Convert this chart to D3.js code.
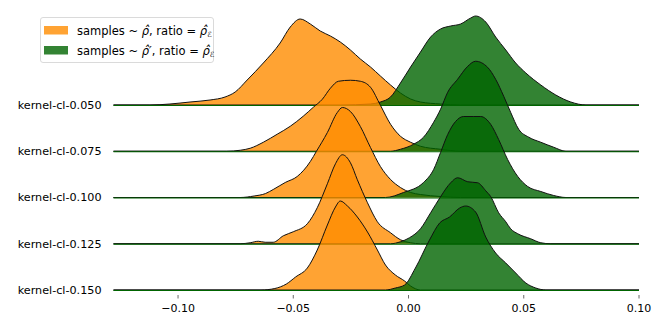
<!DOCTYPE html>
<html><head><meta charset="utf-8">
<script src="https://cdn.jsdelivr.net/npm/d3@7/dist/d3.min.js"></script>
<style>html,body{margin:0;padding:0;background:#fff;}svg{display:block;font-family:"DejaVu Sans",sans-serif;}</style>
</head><body>
<svg id="c" width="664" height="332"></svg>
<script>
// ---- data (x in data units, density in relative units) ----
const rowLabels = ["kernel-cl-0.050","kernel-cl-0.075","kernel-cl-0.100","kernel-cl-0.125","kernel-cl-0.150"];
const xTicks = [-0.10,-0.05,0.00,0.05,0.10];
const seriesNames = ["samples ~ \u03C1\u0302, ratio = \u03C1\u0302\u2130","samples ~ \u03C1\u0302\u2032, ratio = \u03C1\u0302\u2130"];

const orange050 = [[-0.1122,0],[-0.1035,1],[-0.0948,3],[-0.0861,5],[-0.0796,8],[-0.0752,13],[-0.0700,25],[-0.0630,42],[-0.0557,62],[-0.0513,78],[-0.0470,86],[-0.0426,81],[-0.0383,74],[-0.0339,69],[-0.0296,63],[-0.0252,55],[-0.0209,46],[-0.0165,38],[-0.0122,29],[-0.0078,20],[-0.0035,12],[0.0009,6],[0.0052,3],[0.0139,1],[0.0226,0]];
const green050  = [[-0.0296,0],[-0.0165,1],[-0.0122,3],[-0.0078,8],[-0.0035,22],[0.0009,38],[0.0052,53],[0.0096,68],[0.0139,76],[0.0183,79],[0.0226,81],[0.0270,87],[0.0291,89],[0.0335,83],[0.0378,68],[0.0422,55],[0.0465,42],[0.0509,32],[0.0574,20],[0.0639,10],[0.0704,3],[0.0770,0]];
const orange075 = [[-0.0790,0],[-0.0730,1],[-0.0687,3],[-0.0630,9],[-0.0570,17],[-0.0513,25],[-0.0457,35],[-0.0413,44],[-0.0374,52],[-0.0339,63],[-0.0304,70],[-0.0252,71],[-0.0209,70],[-0.0165,64],[-0.0122,46],[-0.0078,27],[-0.0035,15],[0.0009,9],[0.0052,5],[0.0139,2],[0.0226,0]];
const green075  = [[-0.0078,0],[-0.0035,2],[0.0022,7],[0.0065,14],[0.0109,29],[0.0139,42],[0.0170,59],[0.0213,72],[0.0257,85],[0.0291,90],[0.0343,84],[0.0378,72],[0.0413,55],[0.0443,39],[0.0478,22],[0.0522,14],[0.0574,9],[0.0630,4],[0.0683,0]];
const orange100 = [[-0.0730,0],[-0.0670,1.5],[-0.0620,4],[-0.0587,8],[-0.0535,15],[-0.0483,21],[-0.0426,36],[-0.0400,46],[-0.0352,65],[-0.0309,85],[-0.0287,90],[-0.0252,86],[-0.0209,71],[-0.0165,50],[-0.0122,31],[-0.0078,18],[-0.0035,10],[0.0009,5],[0.0052,3],[0.0139,1],[0.0226,0]];
const green100  = [[-0.0100,0],[-0.0022,5],[0.0065,15],[0.0109,28],[0.0139,45],[0.0170,63],[0.0204,76],[0.0239,81],[0.0283,81],[0.0313,81],[0.0357,73],[0.0391,58],[0.0430,38],[0.0474,21],[0.0517,11],[0.0574,6],[0.0630,2],[0.0683,0]];
const orange125 = [[-0.0730,0],[-0.0687,1],[-0.0652,2.5],[-0.0622,1.5],[-0.0587,1.5],[-0.0543,8],[-0.0500,12],[-0.0439,20],[-0.0396,36],[-0.0352,60],[-0.0317,80],[-0.0287,89],[-0.0252,81],[-0.0222,64],[-0.0178,41],[-0.0135,22],[-0.0078,11],[-0.0035,4],[0.0009,1],[0.0052,0]];
const green125  = [[-0.0078,0],[-0.0035,2],[0.0004,6],[0.0052,15],[0.0096,31],[0.0139,47],[0.0183,61],[0.0213,66],[0.0257,62],[0.0300,61],[0.0335,53],[0.0357,47],[0.0391,31],[0.0422,22],[0.0443,15],[0.0474,10],[0.0530,5],[0.0574,1],[0.0617,0]];
const orange150 = [[-0.0640,0],[-0.0580,1.5],[-0.0530,6],[-0.0490,13],[-0.0439,22],[-0.0396,40],[-0.0352,65],[-0.0317,83],[-0.0296,89],[-0.0265,84],[-0.0222,73],[-0.0178,58],[-0.0135,40],[-0.0100,25],[-0.0057,15],[-0.0017,9],[0.0009,4],[0.0052,0]];
const green150  = [[-0.0100,0],[-0.0057,2],[-0.0017,5],[0.0030,22],[0.0091,50],[0.0135,67],[0.0178,73],[0.0222,82],[0.0248,84],[0.0291,78],[0.0335,53],[0.0378,37],[0.0422,27],[0.0465,17],[0.0509,7],[0.0552,2],[0.0596,0]];

const orangeRows = [orange050, orange075, orange100, orange125, orange150];
const greenRows  = [green050, green075, green100, green125, green150];

// ---- drawing ----
const svg = d3.select("#c");
const xDomain = [-0.128, 0.10];
const x = d3.scaleLinear().domain(xDomain).range([113.5, 639]);
const row = d3.scalePoint().domain(rowLabels).range([105, 290]);
const h = d3.scaleLinear().domain([0, 100]).range([0, 100]);

const colOrange = "darkorange", colGreen = "darkgreen";

function pad(pts){ return [[xDomain[0],0], ...pts, [xDomain[1],0]]; }

rowLabels.forEach((lab, i) => {
  const base = row(lab);
  const g = svg.append("g");
  const area = d3.area().curve(d3.curveMonotoneX).x(d => x(d[0])).y0(base).y1(d => base - h(d[1]));
  const line = d3.line().curve(d3.curveMonotoneX).x(d => x(d[0])).y(d => base - h(d[1]));
  [[orangeRows[i], colOrange], [greenRows[i], colGreen]].forEach(([pts, col]) => {
    const p = pad(pts);
    g.append("path").attr("d", area(p)).attr("fill", col).attr("fill-opacity", 0.8);
    g.append("path").attr("d", line(p)).attr("fill", "none").attr("stroke", "#111").attr("stroke-width", 1);
  });
  g.append("line").attr("x1", x(xDomain[0])).attr("x2", x(xDomain[1]))
    .attr("y1", base + 0.5).attr("y2", base + 0.5).attr("stroke", colGreen).attr("stroke-width", 1.2);
  svg.append("text").attr("x", 101.5).attr("y", base).attr("dy", "0.35em")
    .attr("text-anchor", "end").attr("font-size", 11.2).attr("fill", "#000").text(lab);
});

// x axis (no domain line)
const axisY = 295;
const ax = svg.append("g").attr("transform", `translate(0,${axisY})`);
ax.selectAll("line").data(xTicks).join("line")
  .attr("x1", d => x(d)).attr("x2", d => x(d)).attr("y1", 0).attr("y2", 3.5)
  .attr("stroke", "#444").attr("stroke-width", 0.8);
ax.selectAll("text").data(xTicks).join("text")
  .attr("x", d => x(d)).attr("y", 17).attr("text-anchor", "middle").attr("font-size", 11)
  .text(d => d3.format(".2f")(d).replace("-", "\u2212"));

// legend
const lg = svg.append("g");
lg.append("rect").attr("x", 40.5).attr("y", 17.5).attr("width", 173).attr("height", 45).attr("rx", 2.5)
  .attr("fill", "#fff").attr("fill-opacity", 0.8).attr("stroke", "#d0d0d0").attr("stroke-width", 0.8);
const legCols = [colOrange, colGreen];
seriesNames.forEach((nm, i) => {
  const yy = 30 + i * 20;
  lg.append("rect").attr("x", 44).attr("y", yy - 4).attr("width", 24).attr("height", 8.5)
    .attr("fill", legCols[i]).attr("fill-opacity", 0.8);
  const t = lg.append("text").attr("x", 77).attr("y", yy + 4.5).attr("font-size", 11.5);
  const prime = i === 1;
  t.append("tspan").text("samples ~ ");
  t.append("tspan").attr("font-style", "italic").text("\u03C1\u0302" + (prime ? "\u2032" : ""));
  t.append("tspan").text(", ratio = ");
  t.append("tspan").attr("font-style", "italic").text("\u03C1\u0302");
  t.append("tspan").attr("font-size", 7.5).attr("font-style", "italic").attr("dy", 2.5).text("\u2130");
});
</script>
</body></html>
